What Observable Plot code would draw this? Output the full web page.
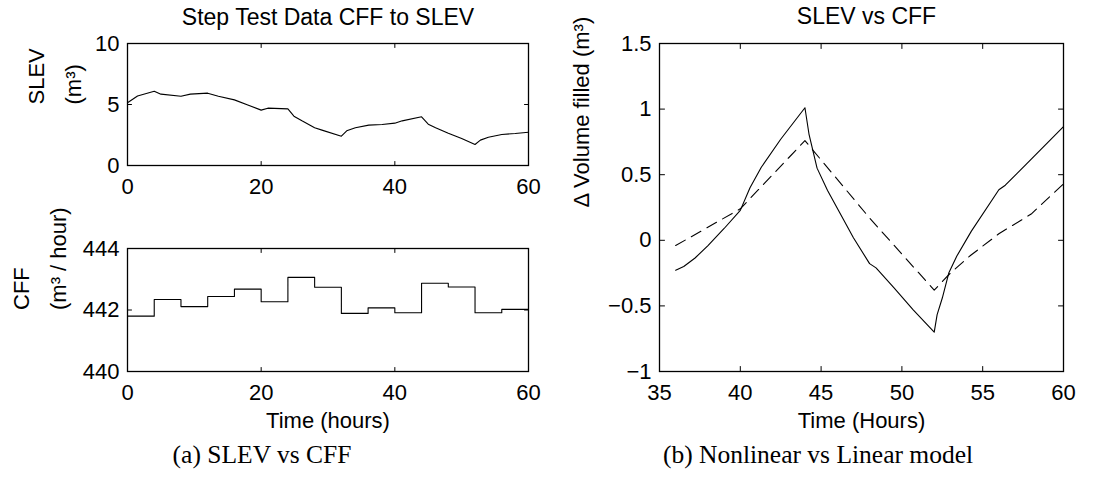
<!DOCTYPE html>
<html><head><meta charset="utf-8">
<script src="https://cdn.jsdelivr.net/npm/d3@7"></script>
<script src="https://cdn.jsdelivr.net/npm/@observablehq/plot@0.6"></script>
<style>
body{margin:0;background:#fff;}
#fig{position:relative;width:1100px;height:479px;overflow:hidden;background:#fff;}
#fig svg{position:absolute;overflow:visible;}
.cap{position:absolute;font-family:"Liberation Serif","Times New Roman",serif;font-size:25.5px;line-height:1;white-space:nowrap;transform:translateX(-50%);color:#000;}
</style></head><body><div id="fig"></div>
<script>
// ---- data ----
const slevHours = [0,1.5,4,5,8,9.4,12,13.6,16,18,20,21,24,24.9,26.1,28,29.1,32,32.8,34.1,36.1,38.1,40,41.1,44,45,46.1,48,50,52,52.8,54,56,58,60];
const slevValues = [5.14,5.7,6.09,5.85,5.68,5.85,5.93,5.68,5.38,4.95,4.54,4.7,4.64,4.04,3.66,3.09,2.9,2.4,2.84,3.09,3.31,3.36,3.47,3.66,3.99,3.39,3.09,2.64,2.21,1.72,2.08,2.32,2.54,2.62,2.73];

const cffHours = [0,4,8,12,16,20,24,28,32,36,40,44,48,52,56,60];
const cffValues = [441.80,442.34,442.11,442.44,442.68,442.27,443.06,442.74,441.89,442.07,441.91,442.87,442.75,441.91,442.02,442.02];

const nonlinHours = [36,36.5,37.2,38,39,40,40.6,41.3,42.5,44,44.25,44.75,45.4,46.4,47,48,48.4,49.5,50.7,52,52.18,52.5,52.9,53.4,54.3,56,56.4,57.7,60];
const nonlinVolume = [-0.228,-0.2,-0.135,-0.04,0.09,0.228,0.4,0.557,0.77,1.01,0.81,0.55,0.38,0.155,0.02,-0.178,-0.21,-0.36,-0.53,-0.70,-0.566,-0.44,-0.25,-0.12,0.07,0.385,0.42,0.58,0.866];

const linHours = [36,40,44,48,52,53,54.2,56,58,60];
const linVolume = [-0.04,0.24,0.76,0.17,-0.38,-0.25,-0.12,0.05,0.2,0.43];

const slevXTicks = [0,20,40,60], slevYTicks = [0,5,10];
const cffXTicks = [0,20,40,60], cffYTicks = [440,442,444];
const volXTicks = [35,40,45,50,55,60], volYTicks = [-1,-0.5,0,0.5,1,1.5];

const titles = ["Step Test Data CFF to SLEV", "SLEV vs CFF"];
const yLabels = ["SLEV\n(m³)", "CFF\n(m³ / hour)", "Δ Volume filled (m³)"];
const xLabels = ["Time (hours)", "Time (Hours)"];
const captions = ["(a) SLEV vs CFF", "(b) Nonlinear vs Linear model"];

// ---- helpers ----
const FONT = "'Liberation Sans', Arial, Helvetica, sans-serif";
const fmt = d3.format("");
const tickShape = {draw(ctx, l) { ctx.moveTo(0, 0); ctx.lineTo(0, -l); }};
function ticks(xT, yT, len) {
  const o = {stroke: "black", strokeWidth: 1, length: len, anchor: "start", shape: tickShape};
  return [
    Plot.vector(xT, {...o, x: d => d, frameAnchor: "bottom", rotate: 0}),
    Plot.vector(xT, {...o, x: d => d, frameAnchor: "top", rotate: 180}),
    Plot.vector(yT, {...o, y: d => d, frameAnchor: "left", rotate: 90}),
    Plot.vector(yT, {...o, y: d => d, frameAnchor: "right", rotate: 270})
  ];
}
function panel({left, top, width, height, fl, fr, ft, fb, xDomain, yDomain, xT, yT, len, marks}) {
  const svg = Plot.plot({
    width, height,
    marginLeft: fl - left, marginRight: left + width - fr,
    marginTop: ft - top, marginBottom: top + height - fb,
    style: {fontFamily: FONT, fontSize: "22px", background: "transparent", color: "black", overflow: "visible"},
    x: {domain: xDomain},
    y: {domain: yDomain},
    marks: [
      ...marks,
      Plot.frame({stroke: "black", strokeWidth: 1.3}),
      ...ticks(xT, yT, len),
      Plot.axisX({ticks: xT, tickSize: 0, tickPadding: 13, tickFormat: fmt, fontSize: 22, label: null}),
      Plot.axisY({ticks: yT, tickSize: 0, tickPadding: 8, tickFormat: fmt, fontSize: 22, label: null})
    ]
  });
  svg.style.left = left + "px";
  svg.style.top = top + "px";
  return svg;
}
const fig = document.getElementById("fig");
const one = [0];

// Panel (a) top: SLEV
fig.appendChild(panel({
  left: 0, top: 0, width: 560, height: 200, fl: 127, fr: 528, ft: 43, fb: 165,
  xDomain: [0, 60], yDomain: [0, 10], xT: slevXTicks, yT: slevYTicks, len: 4,
  marks: [
    Plot.line(slevHours.map((h, i) => ({h, v: slevValues[i]})), {x: "h", y: "v", stroke: "black", strokeWidth: 1.1}),
    Plot.text(one, {text: () => titles[0], frameAnchor: "top", dy: -19, lineAnchor: "bottom", fontSize: 23}),
    Plot.text(one, {text: () => yLabels[0], frameAnchor: "left", rotate: -90, dx: -77, lineAnchor: "middle", lineHeight: 1.68, fontSize: 22})
  ]
}));

// Panel (a) bottom: CFF
fig.appendChild(panel({
  left: 0, top: 205, width: 560, height: 235, fl: 127, fr: 528, ft: 248, fb: 371,
  xDomain: [0, 60], yDomain: [440, 444], xT: cffXTicks, yT: cffYTicks, len: 4,
  marks: [
    Plot.line(cffHours.map((h, i) => ({h, v: cffValues[i]})), {x: "h", y: "v", curve: "step-after", stroke: "black", strokeWidth: 1.1}),
    Plot.text(one, {text: () => yLabels[1], frameAnchor: "left", rotate: -90, dx: -92, lineAnchor: "middle", lineHeight: 1.68, fontSize: 22}),
    Plot.text(one, {text: () => xLabels[0], frameAnchor: "bottom", dy: 56, lineAnchor: "bottom", fontSize: 22})
  ]
}));

// Panel (b): Nonlinear vs linear
fig.appendChild(panel({
  left: 560, top: 0, width: 540, height: 440, fl: 659, fr: 1063, ft: 43, fb: 371,
  xDomain: [35, 60], yDomain: [-1, 1.5], xT: volXTicks, yT: volYTicks, len: 5,
  marks: [
    Plot.line(nonlinHours.map((h, i) => ({h, v: nonlinVolume[i]})), {x: "h", y: "v", stroke: "black", strokeWidth: 1.1}),
    Plot.line(linHours.map((h, i) => ({h, v: linVolume[i]})), {x: "h", y: "v", stroke: "black", strokeWidth: 1.1, strokeDasharray: "11,7"}),
    Plot.text(one, {text: () => titles[1], frameAnchor: "top", dy: -20, dx: 5, lineAnchor: "bottom", fontSize: 23}),
    Plot.text(one, {text: () => yLabels[2], frameAnchor: "left", rotate: -90, dx: -78, lineAnchor: "middle", fontSize: 22}),
    Plot.text(one, {text: () => xLabels[1], frameAnchor: "bottom", dy: 56, lineAnchor: "bottom", fontSize: 22})
  ]
}));

// captions
[[captions[0], 262], [captions[1], 818]].forEach(([t, cx]) => {
  const d = document.createElement("div");
  d.className = "cap";
  d.textContent = t;
  d.style.left = cx + "px";
  d.style.top = "441.6px";
  fig.appendChild(d);
});
</script></body></html>
